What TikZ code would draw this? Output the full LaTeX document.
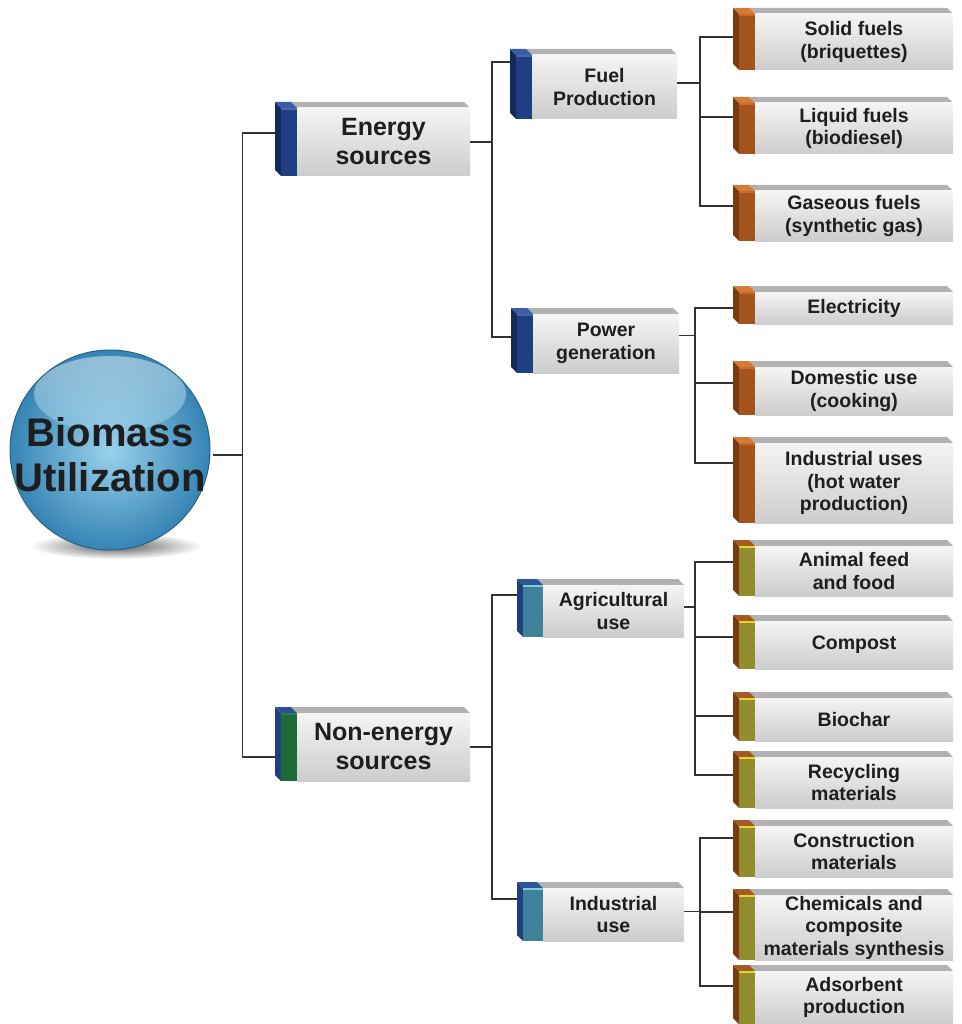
\documentclass[tikz,border=0pt]{standalone}
\usepackage{fontspec}
\setmainfont{Liberation Sans}

% cap colours: front, side, top, highlight
\definecolor{enfront}{HTML}{1F3F82}
\definecolor{enside}{HTML}{13295A}
\definecolor{entop}{HTML}{3A5DA5}
\definecolor{enhl}{HTML}{4868AE}
\definecolor{nefront}{HTML}{1C6A38}
\definecolor{neside}{HTML}{1F3F82}
\definecolor{netop}{HTML}{2B4F95}
\definecolor{nehl}{HTML}{2F7E4A}
\definecolor{tlfront}{HTML}{3F8199}
\definecolor{tlside}{HTML}{1F3F82}
\definecolor{tltop}{HTML}{2C5595}
\definecolor{tlhl}{HTML}{84CBE0}
\definecolor{orfront}{HTML}{A5531D}
\definecolor{orside}{HTML}{7A3A10}
\definecolor{ortop}{HTML}{D27C38}
\definecolor{orhl}{HTML}{C86A2A}
\definecolor{olfront}{HTML}{8F8D2D}
\definecolor{olside}{HTML}{7A3A10}
\definecolor{oltop}{HTML}{A45A22}
\definecolor{olhl}{HTML}{E6D62C}
\definecolor{sphin}{HTML}{9AD2EC}
\definecolor{sphout}{HTML}{3584B4}
\definecolor{txt}{HTML}{1E1E1E}

\newcommand{\lvlone}{\fontsize{25}{29}\selectfont\bfseries}
\newcommand{\lvltwo}{\fontsize{19.5}{22.5}\selectfont\bfseries}
\newcommand{\sphfont}{\fontsize{40}{45}\selectfont\bfseries}

\tikzset{
  boxtop/.style={fill=black!30},
  boxfront/.style={top color=black!4, bottom color=black!20},
  boxtext/.style={inner sep=0pt, align=center, text=txt, font=\lvltwo},
  link/.style={line width=1.6pt, draw=black!80}
}

% #1 name, #2 left, #3 top, #4 right, #5 bottom, #6 colour set, #7 cap width, #8 text, #9 entry y
\newcommand{\cbox}[9]{%
  \fill[boxtop] (#2+#7-6,#3) -- (#4-6,#3) -- (#4,#3+6) -- (#2+#7,#3+6) -- cycle;
  \shade[boxfront] (#2+#7,#3+6) rectangle (#4,#5);
  \fill[#6side] (#2,#3) -- (#2+6,#3+6) -- (#2+6,#5) -- (#2,#5-6) -- cycle;
  \fill[#6top] (#2,#3) -- (#2+#7-6,#3) -- (#2+#7,#3+6) -- (#2+6,#3+6) -- cycle;
  \fill[#6front] (#2+6,#3+6) rectangle (#2+#7,#5);
  \draw[#6hl, line width=1.5pt] (#2+6,#3+7) -- (#2+#7,#3+7);
  \node[boxtext, minimum width=#4-#2-#7, minimum height=#5-#3-6] (#1)
    at ({(#2+#7+#4)/2},{(#3+6+#5)/2}) {#8};
  \coordinate (#1-in) at (#2,#9);
}

\begin{document}
\begin{tikzpicture}[x=1pt, y=-1pt]
    \useasboundingbox (0,0) rectangle (961,1024);

    % sphere
    \shade[inner color=black!65, outer color=white] (116,546) ellipse (86 and 13);
    \shade[inner color=sphin, outer color=sphout] (110,450) circle (100);
    \shade[top color=white, bottom color=sphin, opacity=0.45] (110,394) ellipse (76 and 38);
    \draw[sphout!75!black, line width=1pt] (110,450) circle (100);
    \node[circle, minimum size=200, inner sep=0pt, align=center, text=txt, font=\sphfont]
        (bio) at (110,455) {Biomass\\Utilization};

    % first level
    \begin{scope}[boxtext/.append style={font=\lvlone}]
    \cbox{energy}{275}{102}{470}{176}{en}{22}{Energy\\sources}{133}
    \cbox{nonenergy}{275}{707}{470}{781}{ne}{22}{Non-energy\\sources}{757}
    \end{scope}

    % second level
    \cbox{fuel}{510}{49}{677}{119}{en}{22}{Fuel\\Production}{62}
    \cbox{power}{511}{308}{679}{373}{en}{22}{Power\\generation}{337}
    \cbox{agri}{517}{579}{684}{637}{tl}{26}{Agricultural\\use}{595}
    \cbox{indus}{517}{882}{684}{941}{tl}{26}{Industrial\\use}{899}

    % third level
    \cbox{solid}{733}{8}{953}{70}{or}{22}{Solid fuels\\(briquettes)}{37}
    \cbox{liquid}{733}{97}{953}{154}{or}{22}{Liquid fuels\\(biodiesel)}{117}
    \cbox{gas}{733}{185}{953}{241}{or}{22}{Gaseous fuels\\(synthetic gas)}{206}
    \cbox{elec}{733}{286}{953}{324}{or}{22}{Electricity}{308}
    \cbox{domestic}{733}{361}{953}{415}{or}{22}{Domestic use\\(cooking)}{383}
    \cbox{induses}{733}{437}{953}{523}{or}{22}{Industrial uses\\(hot water\\production)}{463}
    \cbox{feed}{733}{540}{953}{596}{ol}{22}{Animal feed\\and food}{562}
    \cbox{compost}{733}{615}{953}{669}{ol}{22}{Compost}{637}
    \cbox{biochar}{733}{692}{953}{741}{ol}{22}{Biochar}{716}
    \cbox{recycl}{733}{751}{953}{808}{ol}{22}{Recycling\\materials}{775}
    \cbox{constr}{733}{820}{953}{877}{ol}{22}{Construction\\materials}{838}
    \cbox{chem}{733}{889}{953}{960}{ol}{22}{Chemicals and\\composite\\materials synthesis}{912}
    \cbox{adsorb}{733}{965}{953}{1024}{ol}{22}{Adsorbent\\production}{986}

    % connectors
    \foreach \c in {energy,nonenergy}
        \draw[link] (bio.east) -- ++(30,0) |- (\c-in);
    \foreach \c in {fuel,power}
        \draw[link] (energy.east) -- ++(22,0) |- (\c-in);
    \foreach \c in {agri,indus}
        \draw[link] (nonenergy.east) -- ++(22,0) |- (\c-in);
    \foreach \c in {solid,liquid,gas}
        \draw[link] ([yshift=4pt]fuel.east) -- ++(23,0) |- (\c-in);
    \foreach \c in {elec,domestic,induses}
        \draw[link] ([yshift=8pt]power.east) -- ++(16,0) |- (\c-in);
    \foreach \c in {feed,compost,biochar,recycl}
        \draw[link] ([yshift=4pt]agri.east) -- ++(11,0) |- (\c-in);
    \foreach \c in {constr,chem,adsorb}
        \draw[link] ([yshift=3pt]indus.east) -- ++(16,0) |- (\c-in);
\end{tikzpicture}
\end{document}
